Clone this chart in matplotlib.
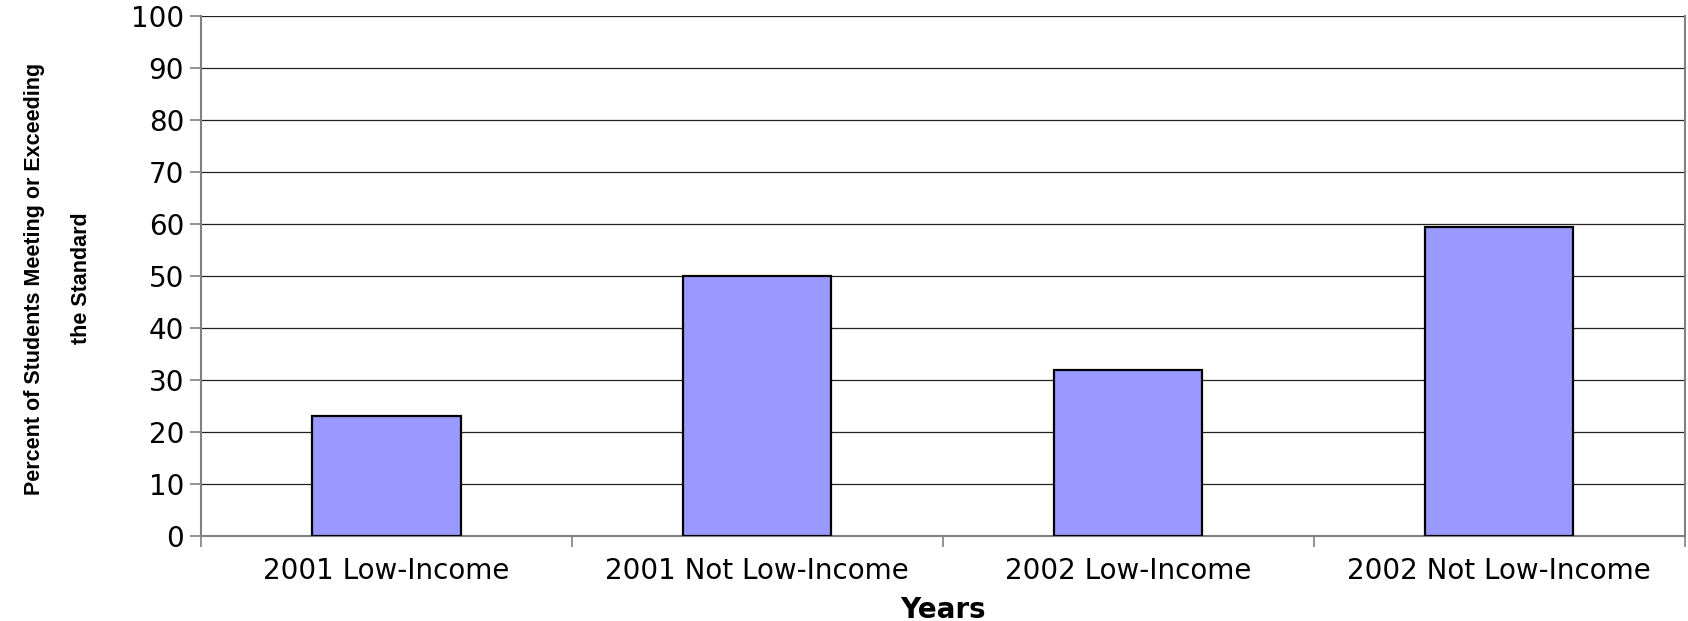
import numpy as np
import matplotlib
matplotlib.use('Agg')
import matplotlib.pyplot as plt

# data
groups = ['2001 Low-Income', '2001 Not Low-Income', '2002 Low-Income', '2002 Not Low-Income']
percent = [23, 50, 32, 59.4]
y_ticks = [0, 10, 20, 30, 40, 50, 60, 70, 80, 90, 100]

x = np.arange(len(groups))

fig = plt.figure(figsize=(16.88, 6.21), dpi=100)
ax = fig.add_axes([0.119, 0.137, 0.879, 0.837])

ax.set_axisbelow(True)
ax.grid(axis='y', color='#222222', linewidth=0.9)
ax.bar(x, percent, width=0.4, color='#9999FF', edgecolor='black', linewidth=1.6, zorder=3)

ax.set_xlim(-0.5, len(groups) - 0.5)
ax.set_ylim(0, 100)
ax.set_yticks(y_ticks)

# category labels centred, tick marks between categories
ax.set_xticks(x)
ax.set_xticklabels(groups)
ax.set_xticks(np.arange(-0.5, len(groups)), minor=True)
ax.tick_params(axis='x', which='major', length=0, pad=15, labelsize=20)
ax.tick_params(axis='x', which='minor', length=8, width=1.2, color='#808080', direction='out')
ax.tick_params(axis='y', length=8, width=1.2, color='#808080', pad=4, labelsize=20)

for side in ['left', 'bottom', 'right', 'top']:
    ax.spines[side].set_color('#808080')
    ax.spines[side].set_linewidth(1.5)
ax.spines['top'].set_visible(False)

ax.set_xlabel('Years', fontsize=20, fontweight='bold', labelpad=8)
ax.set_ylabel('Percent of Students Meeting or Exceeding\nthe Standard',
              fontsize=15.5, fontweight='bold', linespacing=2.6,
              family='Liberation Sans', ha='center', va='center')
ax.yaxis.set_label_coords(-0.0964, 0.495)

plt.savefig('out.png', dpi=100)
